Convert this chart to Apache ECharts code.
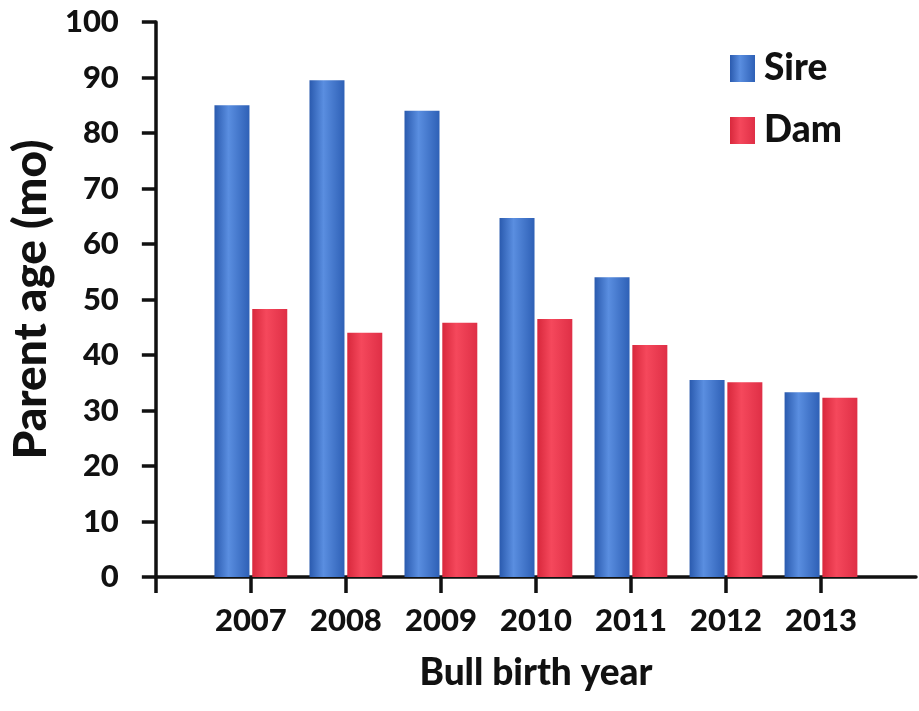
<!DOCTYPE html>
<html>
<head>
<meta charset="utf-8">
<script src="https://cdn.jsdelivr.net/npm/echarts@6/dist/echarts.min.js"></script>
<style>
html,body{margin:0;padding:0;background:#ffffff;}
#chart{width:919px;height:711px;}
</style>
</head>
<body>
<div id="chart"></div>
<script>
// Data
var years = ['', '2007', '2008', '2009', '2010', '2011', '2012', '2013', ''];
var sire = [null, 85, 89.5, 84, 64.7, 54, 35.5, 33.3, null];
var dam = [null, 48.3, 44, 45.8, 46.5, 41.8, 35.1, 32.3, null];
var yTicks = [0, 10, 20, 30, 40, 50, 60, 70, 80, 90, 100];

var FONT = 'Lato';
var chart = echarts.init(document.getElementById('chart'));

function grad(c0, c1, c2) {
  return new echarts.graphic.LinearGradient(0, 0, 1, 0, [
    {offset: 0, color: c0},
    {offset: 0.4, color: c1},
    {offset: 1, color: c2}
  ]);
}

chart.setOption({
  backgroundColor: '#ffffff',
  animation: false,
  grid: {left: 155, right: -4, top: 22, bottom: 134, containLabel: false},
  legend: {
    orient: 'vertical',
    left: 725,
    top: 45,
    icon: 'rect',
    itemWidth: 25,
    itemHeight: 27,
    itemGap: 25,
    textStyle: {fontFamily: FONT, fontWeight: 900, fontSize: 37, color: '#111', padding: [0, 0, 0, 4], lineHeight: 37},
    data: ['Sire', 'Dam']
  },
  xAxis: {
    type: 'category',
    data: years,
    boundaryGap: false,
    name: 'Bull birth year',
    nameLocation: 'middle',
    nameGap: 78,
    nameTextStyle: {fontFamily: FONT, fontWeight: 900, fontSize: 37, color: '#111'},
    axisLine: {lineStyle: {color: '#111', width: 3.5}},
    axisTick: {show: true, length: 16, lineStyle: {color: '#111', width: 3.5},
      interval: function (i) { return i < years.length - 1; }},
    axisLabel: {fontFamily: FONT, fontWeight: 900, fontSize: 31, color: '#111', margin: 28, interval: 0},
    splitLine: {show: false}
  },
  yAxis: {
    type: 'value',
    min: yTicks[0],
    max: yTicks[yTicks.length - 1],
    interval: yTicks[1] - yTicks[0],
    name: 'Parent age (mo)',
    nameLocation: 'middle',
    nameGap: 100,
    nameTextStyle: {fontFamily: FONT, fontWeight: 900, fontSize: 46, color: '#111'},
    axisLine: {show: true, lineStyle: {color: '#111', width: 3.5}},
    axisTick: {show: true, length: 14, lineStyle: {color: '#111', width: 3.5}},
    axisLabel: {fontFamily: FONT, fontWeight: 900, fontSize: 31, color: '#111', margin: 37, padding: [8, 0, 0, 0]},
    splitLine: {show: false}
  },
  series: [
    {
      name: 'Sire',
      type: 'bar',
      data: sire,
      barWidth: 35,
      barGap: '8%',
      itemStyle: {color: grad('#2a5aae', '#5a8ee0', '#2e60b6')}
    },
    {
      name: 'Dam',
      type: 'bar',
      data: dam,
      barWidth: 35,
      itemStyle: {color: grad('#d8283c', '#f5485c', '#df2f46')}
    }
  ]
});
</script>
</body>
</html>
